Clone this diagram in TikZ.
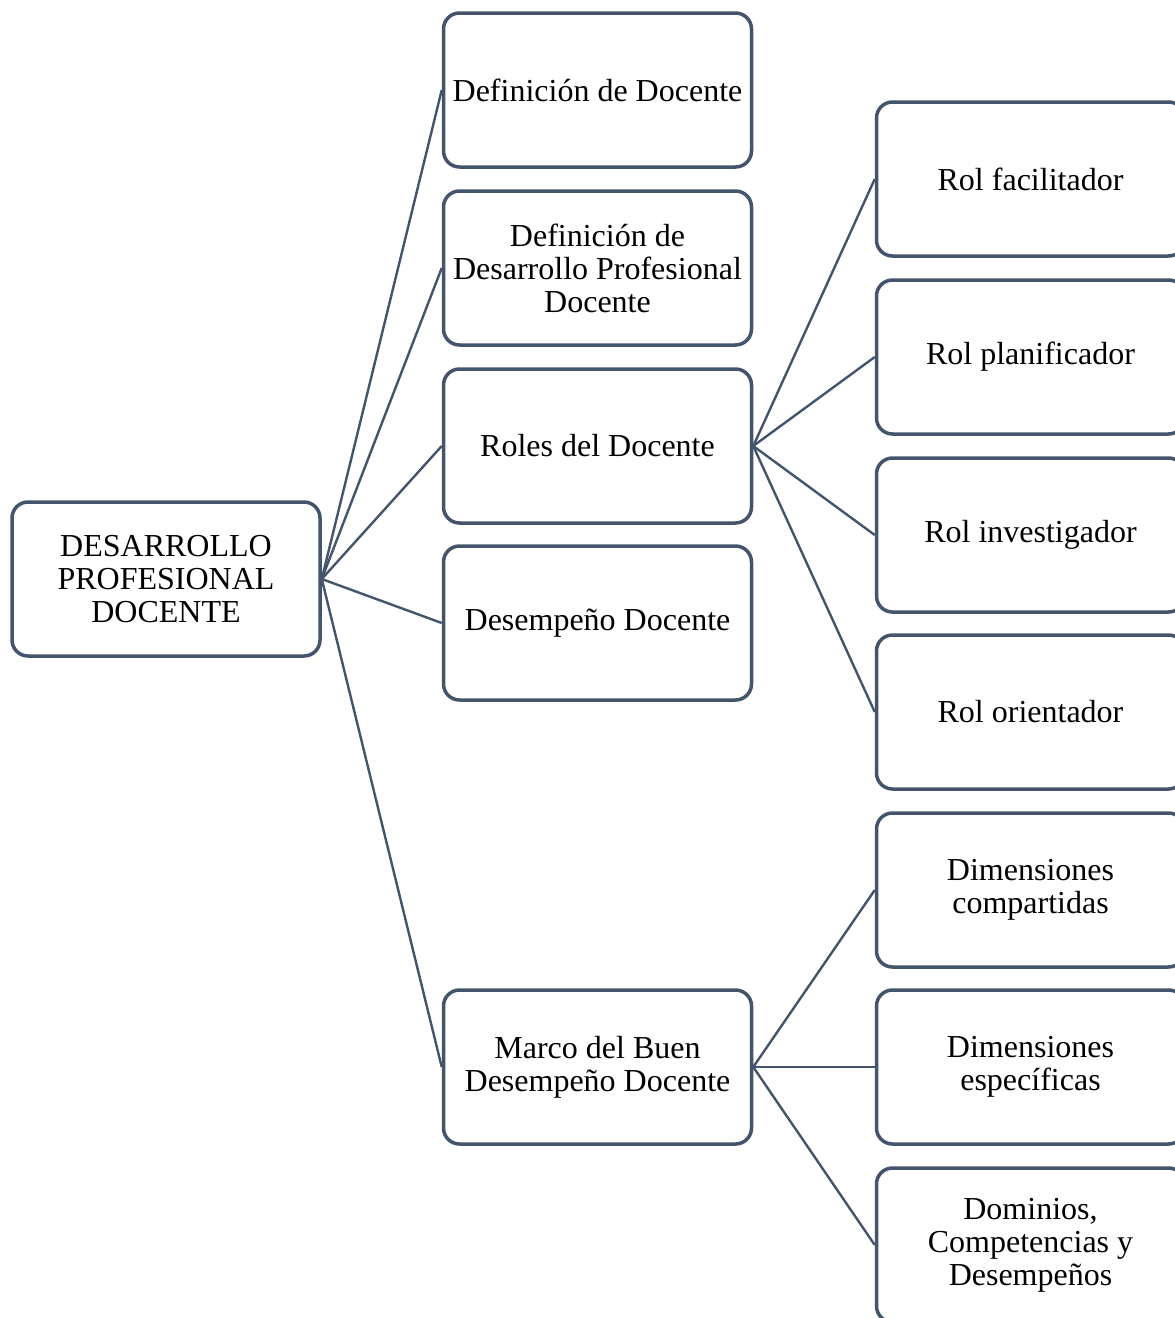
\documentclass[tikz,border=0pt]{standalone}
\usepackage{fontspec}
\setmainfont{Liberation Serif}
\definecolor{slate}{HTML}{44546A}
\tikzset{
	caja/.style={draw=slate, line width=3.5pt, rounded corners=16pt, fill=white,
		minimum width=308pt, minimum height=154pt, align=center, inner sep=0pt,
		font=\fontsize{32}{33}\selectfont},
	rama/.style={draw=slate, line width=2.4pt}
}
\begin{document}
\begin{tikzpicture}[x=1pt,y=-1pt]
			\useasboundingbox (0,0) rectangle (1175,1318);
			% raiz
			\node[caja] (raiz) at (166,579) {DESARROLLO\\PROFESIONAL\\DOCENTE};
			% segundo nivel
			\node[caja] (defdoc) at (597.5,90) {Definición de Docente};
			\node[caja] (defdes) at (597.5,268) {Definición de\\Desarrollo Profesional\\Docente};
			\node[caja] (roles) at (597.5,446) {Roles del Docente};
			\node[caja] (desemp) at (597.5,623) {Desempeño Docente};
			\node[caja] (marco) at (597.5,1067) {Marco del Buen\\Desempeño Docente};
			% roles
			\node[caja] (facil) at (1030.5,179) {Rol facilitador};
			\node[caja] (plan) at (1030.5,357) {Rol planificador};
			\node[caja] (inves) at (1030.5,535) {Rol investigador};
			\node[caja] (orient) at (1030.5,712) {Rol orientador};
			% marco
			\node[caja] (dimcom) at (1030.5,890) {Dimensiones\\compartidas};
			\node[caja] (dimesp) at (1030.5,1067) {Dimensiones\\específicas};
			\node[caja] (domin) at (1030.5,1245) {Dominios,\\Competencias y\\Desempeños};
			
			% conexiones raiz
			\foreach \n in {defdoc,defdes,roles,desemp,marco}
				\draw[rama] (raiz.east) -- (\n.west);
			% conexiones roles
			\foreach \n in {facil,plan,inves,orient}
				\draw[rama] (roles.east) -- (\n.west);
			% conexiones marco
			\foreach \n in {dimcom,dimesp,domin}
				\draw[rama] (marco.east) -- (\n.west);
			
\end{tikzpicture}
\end{document}
